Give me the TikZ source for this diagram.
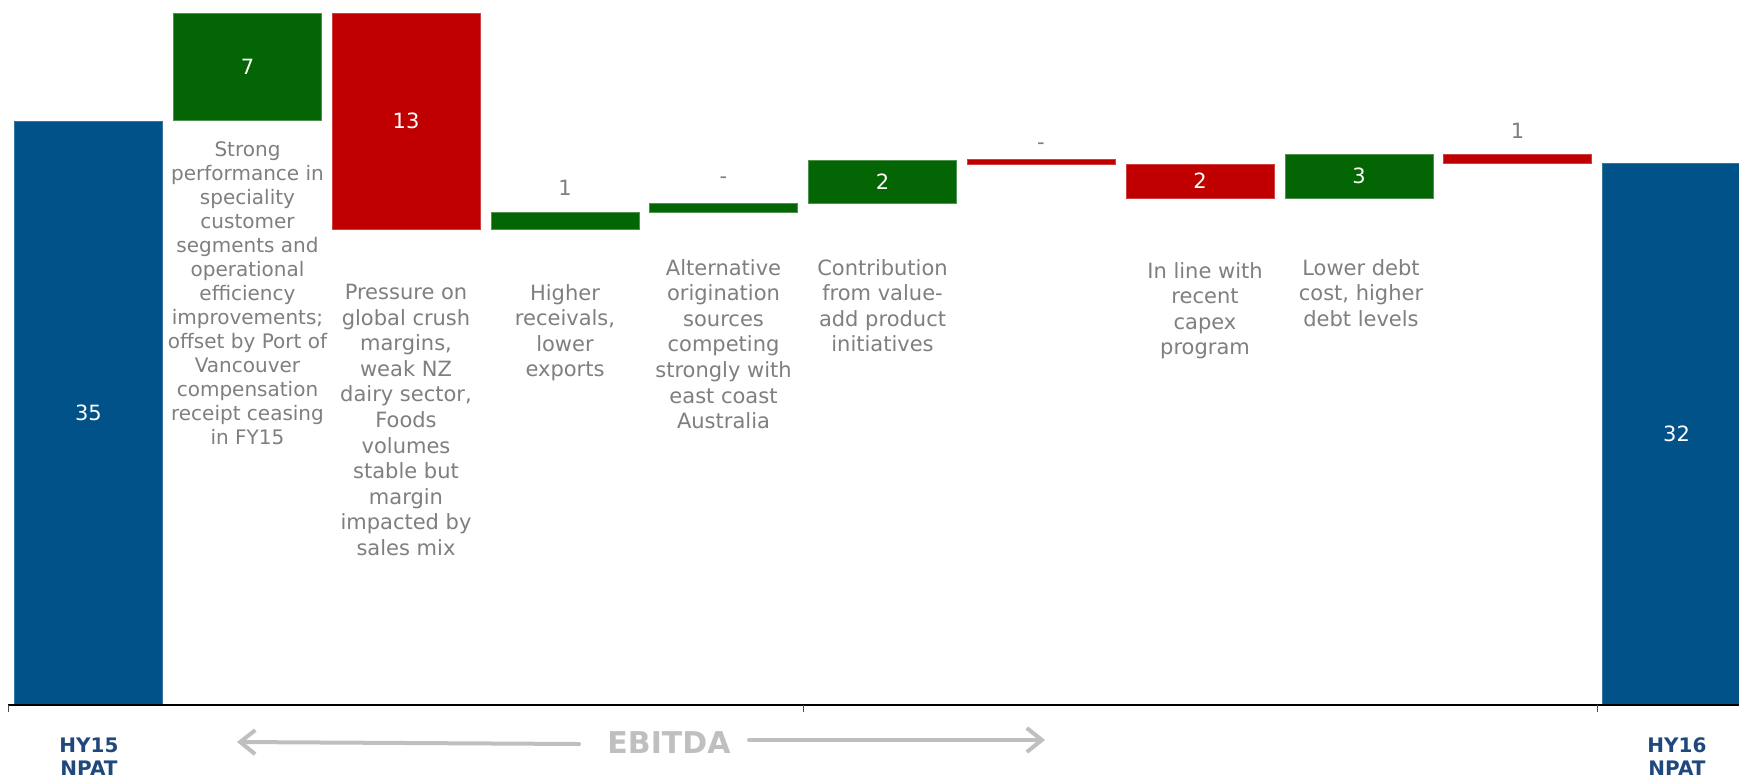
\documentclass[tikz,border=0pt]{standalone}
\usepackage{fontspec}
\setmainfont{DejaVu Sans}
\usetikzlibrary{arrows.meta}
\definecolor{barblue}{HTML}{005288}
\definecolor{bargreen}{HTML}{036503}
\definecolor{barred}{HTML}{C00000}
\definecolor{txtgray}{HTML}{7F7F7F}
\definecolor{hyblue}{HTML}{1F497D}
\definecolor{ebitdagray}{HTML}{BFBFBF}
\begin{document}
\begin{tikzpicture}[x=1pt,y=-1pt,
  bar/.style={rectangle, inner sep=0pt, outer sep=0pt, minimum width=148pt, line width=0.8pt, text=white, font=\fontsize{21}{25}\selectfont},
  bluebar/.style={bar, fill=barblue, draw=barblue!80!white},
  greenbar/.style={bar, fill=bargreen, draw=bargreen!70!white},
  redbar/.style={bar, fill=barred, draw=barred!75!white},
  vallabel/.style={inner sep=0pt, text=txtgray, font=\fontsize{21}{25}\selectfont, anchor=base},
  note/.style={inner sep=0pt, anchor=north, align=center, text=txtgray, font=\fontsize{21}{25.6}\selectfont},
  notesmall/.style={note, font=\fontsize{20}{24}\selectfont},
  catlabel/.style={inner sep=0pt, align=center, text=hyblue, font=\fontsize{20}{23}\selectfont\bfseries},
  ebarrow/.style={draw=ebitdagray, line width=4pt, line cap=round, -{Straight Barb[length=15pt,width=24pt]}},
  axisline/.style={draw=black, line width=1.5pt},
  tick/.style={draw=black!70, line width=1pt}
]
\useasboundingbox (0,0) rectangle (1739,777);
\clip (0,0) rectangle (1739,777);
\fill[white] (0,0) rectangle (1739,777);

% bars
\node[bluebar, minimum height=584pt] (b0) at (88.5,413) {35};
\node[greenbar, minimum height=107pt] (b1) at (247.5,66.5) {7};
\node[redbar, minimum height=216pt] (b2) at (406,121) {13};
\node[greenbar, minimum height=17pt] (b3) at (565,220.5) {};
\node[greenbar, minimum height=9pt] (b4) at (723.5,207.5) {};
\node[greenbar, minimum height=43pt] (b5) at (882.5,181.5) {2};
\node[redbar, minimum height=5pt] (b6) at (1041,161.5) {};
\node[redbar, minimum height=34pt] (b7) at (1200,181) {2};
\node[greenbar, minimum height=44pt] (b8) at (1359,176) {3};
\node[redbar, minimum height=9pt] (b9) at (1517.5,158.5) {};
\node[bluebar, minimum height=542pt] (b10) at (1676.5,434) {32};

% value labels above thin bars
\node[vallabel] (v3) at (565,195) {1};
\node[vallabel] (v4) at (723.5,183) {-};
\node[vallabel] (v6) at (1041,149) {-};
\node[vallabel] (v9) at (1517.5,138) {1};

% notes
\node[notesmall] (n1) at (247.5,141) {Strong\\performance in\\speciality\\customer\\segments and\\operational\\efficiency\\improvements;\\offset by Port of\\Vancouver\\compensation\\receipt ceasing\\in FY15};
\node[note] (n2) at (406,284) {Pressure on\\global crush\\margins,\\weak NZ\\dairy sector,\\Foods\\volumes\\stable but\\margin\\impacted by\\sales mix};
\node[note] (n3) at (565,284) {Higher\\receivals,\\lower\\exports};
\node[note] (n4) at (723.5,259) {Alternative\\origination\\sources\\competing\\strongly with\\east coast\\Australia};
\node[note] (n5) at (882.5,259) {Contribution\\from value-\\add product\\initiatives};
\node[note] (n7) at (1205,262) {In line with\\recent\\capex\\program};
\node[note] (n8) at (1361,259) {Lower debt\\cost, higher\\debt levels};

% axis
\draw[axisline] (8,705) -- (1739,705);
\draw[tick] (8,705) -- (8,712);
\draw[tick] (803,705) -- (803,712);
\draw[tick] (1597,705) -- (1597,712);

% category labels
\node[catlabel] (hy15) at (89,756.5) {HY15\\NPAT};
\node[catlabel] (hy16) at (1677,756.5) {HY16\\NPAT};

% EBITDA
\node[inner sep=0pt, text=ebitdagray, font=\fontsize{30}{36}\selectfont\bfseries] (ebitda) at (669,743) {EBITDA};
\coordinate (lstart) at (579,744);
\coordinate (lend) at (237,742);
\coordinate (rstart) at (749,740);
\coordinate (rend) at (1045,740);
\draw[ebarrow] (lstart) -- (lend);
\draw[ebarrow] (rstart) -- (rend);
\end{tikzpicture}
\end{document}
